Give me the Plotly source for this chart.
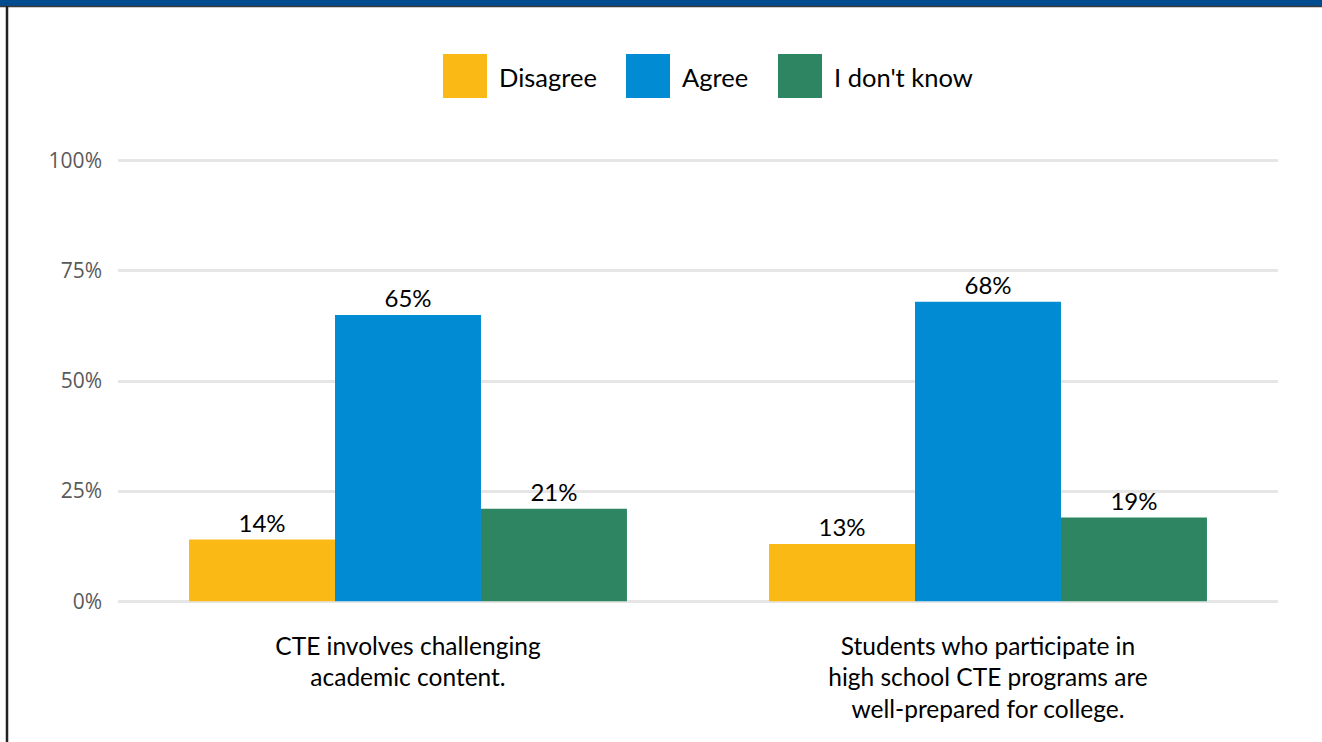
import plotly.graph_objects as go

# Survey statements and response shares (%)
categories = [
    "CTE involves challenging<br>academic content.",
    "Students who participate in<br>high school CTE programs are<br>well-prepared for college.",
]
series_names = ["Disagree", "Agree", "I don't know"]
disagree = [14, 13]
agree = [65, 68]
dont_know = [21, 19]
y_ticks = [0, 25, 50, 75, 100]
y_tick_labels = ["0%", "25%", "50%", "75%", "100%"]

colors = ["#FBB916", "#008BD3", "#2E8562"]
values = [disagree, agree, dont_know]

W, H = 1322, 742
Y_PAD = 0.4  # small headroom so the 0% and 100% gridlines are drawn
M = dict(l=118, r=44, t=161, b=141)
PW = W - M["l"] - M["r"]
PX_PER_UNIT = (H - M["t"] - M["b"]) / 100.0
M["t"] -= round(Y_PAD * PX_PER_UNIT)
M["b"] -= round(Y_PAD * PX_PER_UNIT)
PH = H - M["t"] - M["b"]


def px_x(x):
    return (x - M["l"]) / PW


def px_y(y):
    return (H - M["b"] - y) / PH


LABEL_FONT = "Lato, Noto Sans, sans-serif"

fig = go.Figure()
for name, vals, col in zip(series_names, values, colors):
    fig.add_trace(go.Bar(
        x=categories, y=vals, name=name, marker=dict(color=col, line=dict(width=0)),
        text=[f"{v}%" for v in vals], textposition="outside", cliponaxis=False,
        textfont=dict(family=LABEL_FONT, size=24, color="#000000"),
        showlegend=False,
    ))

shapes = [
    # header band
    dict(type="rect", xref="paper", yref="paper", x0=px_x(-2), x1=px_x(W + 2),
         y0=px_y(6), y1=px_y(-2), fillcolor="#004C8F", line=dict(width=0), layer="above"),
    dict(type="line", xref="paper", yref="paper", x0=px_x(-2), x1=px_x(W + 2),
         y0=px_y(6.5), y1=px_y(6.5), line=dict(color="#3A3A3A", width=1.5)),
    # left frame edge
    dict(type="line", xref="paper", yref="paper", x0=px_x(7), x1=px_x(7),
         y0=px_y(6), y1=px_y(H + 2), line=dict(color="#222222", width=2.5)),
]

annotations = []
legend_boxes = [(443, 487), (626, 670), (778, 822)]
for (x0, x1), name, col in zip(legend_boxes, series_names, colors):
    shapes.append(dict(type="rect", xref="paper", yref="paper",
                       x0=px_x(x0), x1=px_x(x1), y0=px_y(98), y1=px_y(54),
                       fillcolor=col, line=dict(width=0)))
    annotations.append(dict(xref="paper", yref="paper", x=px_x(x1 + 10), y=px_y(77),
                            xanchor="left", yanchor="middle", showarrow=False, text=name,
                            font=dict(family=LABEL_FONT, size=25.5, color="#000000")))

fig.update_layout(
    width=W, height=H, margin=M,
    paper_bgcolor="#FFFFFF", plot_bgcolor="#FFFFFF",
    barmode="group", bargap=0.245, bargroupgap=0,
    showlegend=False, shapes=shapes, annotations=annotations,
    xaxis=dict(showgrid=False, zeroline=False, showline=False, ticks="",
               tickfont=dict(family=LABEL_FONT, size=24.5, color="#000000"),
               ticklabelstandoff=26),
    yaxis=dict(range=[-Y_PAD, 100 + Y_PAD], tickvals=y_ticks, ticktext=y_tick_labels,
               showgrid=True, gridcolor="#E6E6E6", gridwidth=2.5, zeroline=False,
               showline=False, ticks="", ticklabelstandoff=15,
               tickfont=dict(family="Open Sans, sans-serif", size=21, color="#595959")),
)

fig.write_html("out.html")
